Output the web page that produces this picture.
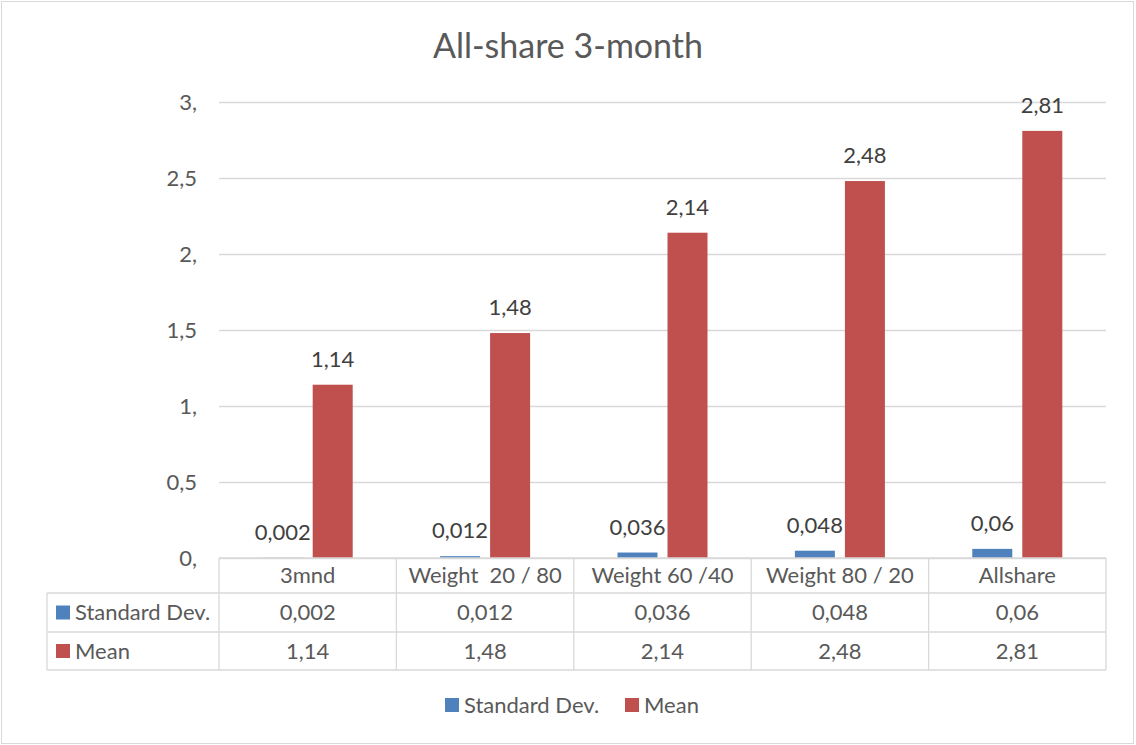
<!DOCTYPE html>
<html>
<head>
<meta charset="utf-8">
<script src="https://cdn.jsdelivr.net/npm/d3@7"></script>
<style>
  body { margin: 0; background: #fff; }
  svg { font-family: Lato, 'Noto Sans', sans-serif; }
</style>
</head>
<body>
<div id="chart"></div>
<script>
const categories = ['3mnd', 'Weight  20 / 80', 'Weight 60 /40', 'Weight 80 / 20', 'Allshare'];
const seriesNames = ['Standard Dev.', 'Mean'];
const stdDev = [0.002, 0.012, 0.036, 0.048, 0.06];
const mean = [1.14, 1.48, 2.14, 2.48, 2.81];
const yTicks = [0, 0.5, 1, 1.5, 2, 2.5, 3];
const colors = ['#4f81bd', '#c0504d'];

const width = 1136;
const height = 745;
const textColor = '#595959';
const gridColor = '#d9d9d9';
const fontSize = 22;

// comma decimal, whole numbers get a trailing comma like the source
const fmt = v => (Number.isInteger(v) ? v + ',' : String(v).replace('.', ','));

const series = seriesNames.map((name, i) => ({ name, values: i === 0 ? stdDev : mean }));

const svg = d3
  .select('#chart')
  .append('svg')
  .attr('width', width)
  .attr('height', height);

svg
  .append('rect')
  .attr('x', 1.5)
  .attr('y', 1.5)
  .attr('width', width - 4)
  .attr('height', height - 3)
  .attr('fill', '#fff')
  .attr('stroke', gridColor);

// TITLE
svg
  .append('text')
  .attr('x', 568)
  .attr('y', 58)
  .attr('text-anchor', 'middle')
  .attr('font-size', 34)
  .attr('fill', textColor)
  .text('All-share 3-month');

// SCALES
const plot = { left: 219, right: 1106, top: 102, bottom: 558 };

const x = d3
  .scaleBand()
  .domain(categories)
  .range([plot.left, plot.right]);

const band = x.bandwidth();
const xInner = d3
  .scaleBand()
  .domain(seriesNames)
  .range([band / 2 - band * 0.2537, band / 2 + band * 0.2537])
  .paddingInner(0.2);

const y = d3
  .scaleLinear()
  .domain([0, 3])
  .range([plot.bottom, plot.top]);

// GRID + Y AXIS
const yAxis = d3
  .axisLeft(y)
  .tickValues(yTicks)
  .tickSize(-(plot.right - plot.left))
  .tickPadding(22)
  .tickFormat(fmt);

const yg = svg
  .append('g')
  .attr('transform', `translate(${plot.left}, 0)`)
  .call(yAxis);

yg.select('.domain').remove();
yg.selectAll('.tick line').attr('stroke', gridColor).attr('stroke-width', 1.3);
yg.selectAll('.tick text')
  .attr('fill', textColor)
  .attr('font-size', fontSize)
  .attr('font-family', 'Lato, sans-serif');

// BARS
const groups = svg
  .append('g')
  .selectAll('g')
  .data(series)
  .enter()
  .append('g')
  .attr('fill', (d, i) => colors[i]);

groups
  .selectAll('rect')
  .data(d => d.values.map((v, j) => ({ name: d.name, cat: categories[j], v })))
  .enter()
  .append('rect')
  .attr('x', d => x(d.cat) + xInner(d.name))
  .attr('width', xInner.bandwidth())
  .attr('y', d => y(d.v))
  .attr('height', d => y(0) - y(d.v));

groups
  .selectAll('text')
  .data(d => d.values.map((v, j) => ({ name: d.name, cat: categories[j], v })))
  .enter()
  .append('text')
  .attr('x', d => x(d.cat) + xInner(d.name) + xInner.bandwidth() / 2)
  .attr('y', d => y(d.v) - 18)
  .attr('text-anchor', 'middle')
  .attr('font-size', fontSize)
  .attr('fill', '#404040')
  .text(d => fmt(d.v));

// DATA TABLE
const rowTop = [558, 593, 632];
const rowBottom = 670;
const tableLeft = 47;
const table = svg.append('g').attr('stroke', gridColor).attr('stroke-width', 1.3);

// horizontal lines
table.append('line').attr('x1', plot.left).attr('x2', plot.right).attr('y1', rowTop[0]).attr('y2', rowTop[0]);
[rowTop[1], rowTop[2], rowBottom].forEach(yy => {
  table.append('line').attr('x1', tableLeft).attr('x2', plot.right).attr('y1', yy).attr('y2', yy);
});
// vertical lines
table.append('line').attr('x1', tableLeft).attr('x2', tableLeft).attr('y1', rowTop[1]).attr('y2', rowBottom);
categories.concat([null]).forEach(c => {
  const xx = c === null ? plot.right : x(c);
  table.append('line').attr('x1', xx).attr('x2', xx).attr('y1', rowTop[0]).attr('y2', rowBottom);
});

const rowMid = [(rowTop[0] + rowTop[1]) / 2, (rowTop[1] + rowTop[2]) / 2, (rowTop[2] + rowBottom) / 2];

svg
  .append('g')
  .selectAll('text')
  .data(categories)
  .enter()
  .append('text')
  .attr('x', d => x(d) + band / 2)
  .attr('y', rowMid[0])
  .attr('dy', '0.35em')
  .attr('text-anchor', 'middle')
  .attr('font-size', fontSize)
  .attr('fill', textColor)
  .style('white-space', 'pre')
  .text(d => d);

series.forEach((s, i) => {
  const g = svg.append('g');
  g.append('rect')
    .attr('x', 56)
    .attr('y', rowMid[i + 1] - 7)
    .attr('width', 14)
    .attr('height', 14)
    .attr('fill', colors[i]);
  g.append('text')
    .attr('x', 75)
    .attr('y', rowMid[i + 1])
    .attr('dy', '0.35em')
    .attr('font-size', fontSize)
    .attr('fill', textColor)
    .text(s.name);
  g.selectAll('.cell')
    .data(s.values)
    .enter()
    .append('text')
    .attr('x', (d, j) => x(categories[j]) + band / 2)
    .attr('y', rowMid[i + 1])
    .attr('dy', '0.35em')
    .attr('text-anchor', 'middle')
    .attr('font-size', fontSize)
    .attr('fill', textColor)
    .text(d => fmt(d));
});

// LEGEND
const legendX = [445, 625];
const legend = svg
  .append('g')
  .selectAll('g')
  .data(seriesNames)
  .enter()
  .append('g')
  .attr('transform', (d, i) => `translate(${legendX[i]}, 705)`);

legend
  .append('rect')
  .attr('y', -7)
  .attr('width', 14)
  .attr('height', 14)
  .attr('fill', (d, i) => colors[i]);

legend
  .append('text')
  .attr('x', 19)
  .attr('dy', '0.35em')
  .attr('font-size', fontSize)
  .attr('fill', textColor)
  .text(d => d);
</script>
</body>
</html>
